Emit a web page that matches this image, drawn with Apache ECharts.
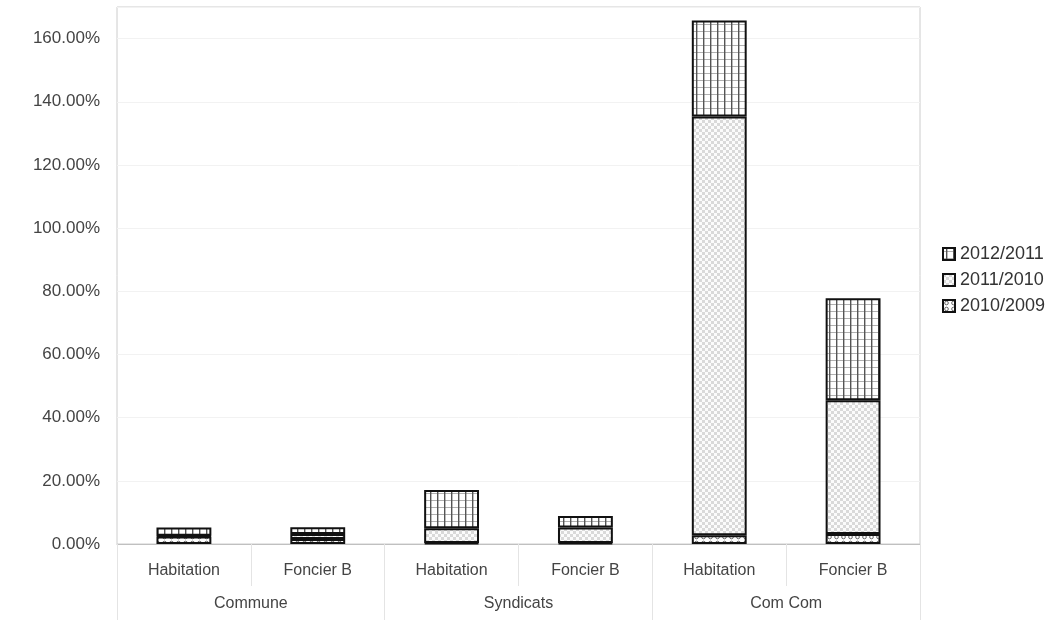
<!DOCTYPE html>
<html>
<head>
<meta charset="utf-8">
<script src="https://cdn.jsdelivr.net/npm/echarts@6/dist/echarts.min.js"></script>
<style>
html,body{margin:0;padding:0;background:#fff;}
#chart{width:1050px;height:623px;}
</style>
</head>
<body>
<div id="chart"></div>
<script>
const categories = ['Habitation', 'Foncier B', 'Habitation', 'Foncier B', 'Habitation', 'Foncier B'];
const groups = ['Commune', 'Syndicats', 'Com Com'];
const s2010_2009 = [2.4, 1.6, 0.3, 0.3, 2.8, 3.2];
const s2011_2010 = [0.2, 1.6, 4.7, 4.9, 132.5, 42.3];
const s2012_2011 = [2.6, 2.1, 12.1, 3.7, 30.4, 32.3];
const legendOrder = ['2012/2011', '2011/2010', '2010/2009'];

function makePattern(kind) {
  const c = document.createElement('canvas');
  const ctx = c.getContext('2d');
  if (kind === 'grid') {
    c.width = 7; c.height = 7;
    ctx.fillStyle = '#ffffff'; ctx.fillRect(0, 0, 7, 7);
    ctx.fillStyle = '#b0b0b0'; ctx.fillRect(0, 3, 7, 1);
    ctx.fillStyle = '#555555'; ctx.fillRect(3, 0, 1.4, 7);
  } else if (kind === 'check') {
    c.width = 6; c.height = 6;
    ctx.fillStyle = '#fbfbfb'; ctx.fillRect(0, 0, 6, 6);
    ctx.fillStyle = '#d9d9d9';
    ctx.fillRect(0, 0, 3, 3); ctx.fillRect(3, 3, 3, 3);
  } else {
    c.width = 7; c.height = 6;
    ctx.fillStyle = '#ffffff'; ctx.fillRect(0, 0, 7, 6);
    ctx.strokeStyle = '#666666'; ctx.lineWidth = 1;
    ctx.beginPath(); ctx.arc(3.5, 3, 1.8, 0, Math.PI * 2); ctx.stroke();
  }
  return { image: c, repeat: 'repeat' };
}

const chart = echarts.init(document.getElementById('chart'), null, { renderer: 'canvas' });
const border = { borderColor: '#111111', borderWidth: 2 };
const labelColor = '#444444';
const font = 'Liberation Sans, Arial, sans-serif';

chart.setOption({
  animation: false,
  backgroundColor: '#ffffff',
  grid: { left: 117, right: 130, top: 7, bottom: 79, show: true, borderColor: '#cccccc', borderWidth: 1 },
  legend: {
    data: legendOrder,
    orient: 'vertical',
    left: 937,
    top: 240,
    itemWidth: 12,
    itemHeight: 12,
    itemGap: 8,
    icon: 'rect',
    textStyle: { fontSize: 18, color: '#333333', fontFamily: font }
  },
  xAxis: [
    {
      type: 'category',
      data: categories,
      axisLine: { show: true, lineStyle: { color: '#c0c0c0' } },
      axisTick: { show: true, length: 42, lineStyle: { color: '#e4e4e4' } },
      axisLabel: { margin: 19, fontSize: 16, color: labelColor, fontFamily: font, interval: 0 }
    },
    {
      type: 'category',
      data: groups,
      position: 'bottom',
      axisLine: { show: false },
      axisTick: { show: true, length: 76, lineStyle: { color: '#e4e4e4' } },
      axisLabel: { margin: 52, fontSize: 16, color: labelColor, fontFamily: font, interval: 0 }
    }
  ],
  yAxis: {
    type: 'value',
    min: 0,
    max: 170,
    interval: 20,
    axisLine: { show: false },
    axisTick: { show: false },
    splitLine: { lineStyle: { color: '#f2f2f2' } },
    axisLabel: {
      showMaxLabel: false,
      margin: 17,
      fontSize: 17,
      color: labelColor,
      fontFamily: font,
      formatter: v => v.toFixed(2) + '%'
    }
  },
  series: [
    { name: '2010/2009', type: 'bar', stack: 't', data: s2010_2009, barWidth: '41%',
      itemStyle: Object.assign({ color: makePattern('dots') }, border) },
    { name: '2011/2010', type: 'bar', stack: 't', data: s2011_2010, barWidth: '41%',
      itemStyle: Object.assign({ color: makePattern('check') }, border) },
    { name: '2012/2011', type: 'bar', stack: 't', data: s2012_2011, barWidth: '41%',
      itemStyle: Object.assign({ color: makePattern('grid') }, border) }
  ]
});
</script>
</body>
</html>
